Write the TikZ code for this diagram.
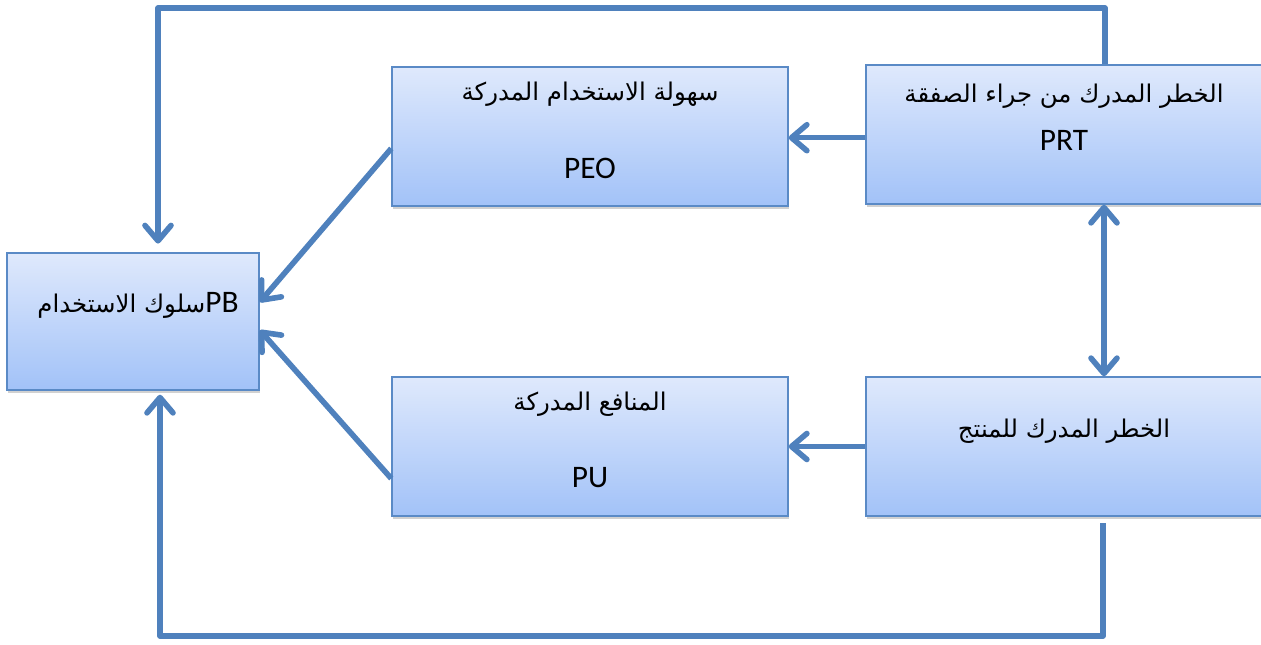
\documentclass[tikz,border=0pt]{standalone}
\usepackage{fontspec}
\setmainfont{Carlito}
\newfontfamily\arabicfont[Script=Arabic]{DejaVu Sans}
\TeXXeTstate=1
\usetikzlibrary{arrows.meta,shadows}
\definecolor{lineblue}{HTML}{4F81BD}
\definecolor{boxedge}{HTML}{5A8AC6}
\definecolor{boxtop}{HTML}{DFE9FC}
\definecolor{boxbot}{HTML}{A2C2F8}
\newcommand{\ar}[1]{{\arabicfont\fontsize{18.3}{22}\selectfont\beginR #1\endR}}
\tikzset{
  box/.style={draw=boxedge, line width=1.1pt, top color=boxtop, bottom color=boxbot,
    inner sep=0pt, drop shadow={shadow xshift=0.8pt, shadow yshift=-2pt, opacity=0.3, fill=black!60}},
  lbl/.style={inner sep=0pt, font=\fontsize{23.5}{26}\selectfont},
  barb/.tip={Straight Barb[length=11.5pt, width=19.5pt, line join=round, line cap=round]},
  conn/.style={draw=lineblue, line width=4.2pt, line join=round, -barb}
}
\begin{document}
\begin{tikzpicture}[x=0.75pt, y=-0.75pt]
\useasboundingbox (0,0) rectangle (1261,645);

% boxes
\node[box, minimum width=189pt, minimum height=102.75pt] (pb)   at (133,321.5) {};
\node[box, minimum width=297pt, minimum height=104.25pt] (peo)  at (590,136.5) {};
\node[box, minimum width=297pt, minimum height=104.25pt] (pu)   at (590,446.5) {};
\node[box, minimum width=297pt, minimum height=104.25pt] (prt)  at (1064,134.5) {};
\node[box, minimum width=297pt, minimum height=104.25pt] (prod) at (1064,446.5) {};

% labels
\node[lbl] (pbtxt)   at (138,305) {\ar{سلوك الاستخدام}PB};
\node[lbl] (peoar)   at (590,94)  {\ar{سهولة الاستخدام المدركة}};
\node[lbl] (peotxt)  at (590,168) {PEO};
\node[lbl] (puar)    at (590,404) {\ar{المنافع المدركة}};
\node[lbl] (putxt)   at (590,478) {PU};
\node[lbl] (prtar)   at (1064,96) {\ar{الخطر المدرك من جراء الصفقة}};
\node[lbl] (prttxt)  at (1064,140) {PRT};
\node[lbl] (prodar)  at (1064,431) {\ar{الخطر المدرك للمنتج}};

% corner points of the two feedback loops
\coordinate (topline) at (600,8);
\coordinate (botline) at (600,636);

% connectors
\draw[conn] ([yshift=-2.4pt]prt.west) -- ([yshift=-2.4pt]prt.west -| peo.east);
\draw[conn] (prod.west) -- (pu.east);
\draw[conn] ([yshift=-9pt]peo.west) -- ([yshift=14.5pt]pb.east);
\draw[conn] ([yshift=-24pt]pu.west) -- ([yshift=-6.5pt]pb.east);
\draw[conn, barb-barb] ([xshift=30pt]prt.south) -- ([xshift=30pt]prod.north);
\draw[conn, shorten >=6.5pt] ([xshift=30.75pt]prt.north) |- (topline) -| ([xshift=18.75pt]pb.north);
\draw[conn, shorten <=5pt, shorten >=3pt] ([xshift=29.25pt]prod.south) |- (botline) -| ([xshift=20.25pt]pb.south);
\end{tikzpicture}
\end{document}
